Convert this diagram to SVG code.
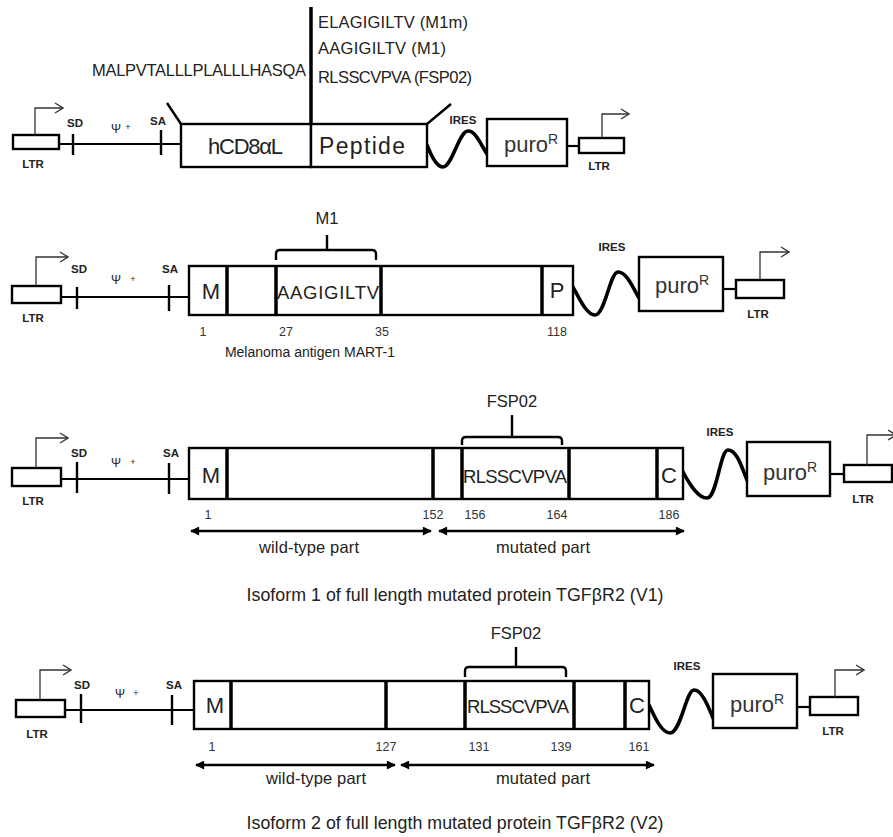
<svg xmlns="http://www.w3.org/2000/svg" width="893" height="837" viewBox="0 0 893 837">
<style>
.bg{fill:#fff}
.box{fill:#fff;stroke:#000;stroke-width:2.4}
.ltr{fill:#fff;stroke:#000;stroke-width:2.4}
.dv{stroke:#000;stroke-width:3.5;fill:none}
.ln{stroke:#000;stroke-width:2.2;fill:none}
.tk{stroke:#000;stroke-width:2.4;fill:none}
.pr{stroke:#333;stroke-width:1.3;fill:none;marker-end:url(#chev)}
.wv{stroke:#000;stroke-width:3.6;fill:none;stroke-linecap:round}
.br{stroke:#000;stroke-width:2.4;fill:none}
.dar{stroke:#000;stroke-width:2.4;fill:none;marker-start:url(#tri);marker-end:url(#tri)}
text{font-family:"Liberation Sans",Arial,sans-serif;fill:#222}
.sb{font-size:11.5px;font-weight:bold;text-anchor:middle}
.psi{font-size:12px;text-anchor:middle}
.pl{font-size:9px;text-anchor:middle}
.seq{font-size:16.5px}
.big{font-size:22px}
.bx{font-size:18.5px}
.let{font-size:22px;text-anchor:middle}
.num{font-size:12.5px;text-anchor:middle;fill:#333}
.cap{font-size:16.5px;text-anchor:middle}
.ttl{font-size:17.8px;text-anchor:middle}
.pu{font-size:22px;fill:#333}
.sup{font-size:14px}
</style>
<defs>
<marker id="chev" viewBox="0 0 10 12" refX="9" refY="6" markerWidth="10" markerHeight="12" markerUnits="userSpaceOnUse" orient="auto"><path d="M1,1 L9,6 L1,11" fill="none" stroke="#333" stroke-width="1.3"/></marker>
<marker id="tri" viewBox="0 0 10 10" refX="9" refY="5" markerWidth="10" markerHeight="9" markerUnits="userSpaceOnUse" orient="auto-start-reverse"><path d="M0,0 L10,5 L0,10 z" fill="#000"/></marker>
</defs>
<rect class="bg" x="0" y="0" width="893" height="837"/>

<g id="connectors">
  <path class="ln" d="M59,144 H181"/>
  <path class="ln" d="M567,146 H579"/>
  <path class="wv" d="M427,145 C432,158 437,167 443,167 C452,167 459,131 468,131 C476,131 481,145 487,154"/>
  <path class="tk" d="M167,103 L181,124"/>
  <path class="tk" d="M427,124 L451,104"/>
  <path class="dv" d="M311,7 V124"/>
  <path class="ln" d="M61,297 H189"/>
  <path class="ln" d="M723,289 H736"/>
  <path class="wv" d="M573,287 C580,300 587,315 595,315 C605,315 610,272 618,272 C627,272 633,288 639,298"/>
  <path class="ln" d="M61,479 H189"/>
  <path class="ln" d="M830,474 H844"/>
  <path class="wv" d="M683,472 C690,485 698,498 707,498 C717,498 720,450 728,450 C737,450 742,468 747,480"/>
  <path class="dar" d="M191,531 H431"/>
  <path class="dar" d="M439,531 H684"/>
  <path class="ln" d="M65,710 H194"/>
  <path class="ln" d="M797,707 H810"/>
  <path class="wv" d="M649,705 C655,718 662,733 670,733 C681,733 686,690 694,690 C702,690 708,706 713,718"/>
  <path class="dar" d="M196,765 H395"/>
  <path class="dar" d="M401,765 H654"/>
</g>

<g id="r1-ltr-left">
  <rect class="ltr" x="13" y="135" width="46" height="14"/>
  <path class="pr" d="M35,135 V108 H63"/>
  <text class="sb" x="33" y="168">LTR</text>
</g>
<g id="r1-sd">
  <path class="tk" d="M73,134 V155"/>
  <text class="sb" x="75" y="127">SD</text>
</g>
<g id="r1-psi">
  <text class="psi" x="116" y="133">Ψ</text>
  <text class="pl" x="128" y="130">+</text>
</g>
<g id="r1-sa">
  <path class="tk" d="M161,130 V155"/>
  <text class="sb" x="158" y="125">SA</text>
</g>
<g id="r1-hcd8">
  <rect class="box" x="181" y="124" width="130" height="43"/>
  <text class="big" x="208" y="154" textLength="75">hCD8αL</text>
</g>
<g id="r1-peptide">
  <rect class="box" x="311" y="124" width="116" height="43"/>
  <text class="big" x="319" y="154" textLength="86" style="font-size:23px">Peptide</text>
</g>
<g id="r1-seqs">
  <text class="seq" x="306" y="76" text-anchor="end" textLength="214">MALPVTALLLPLALLLHASQA</text>
  <text class="seq" x="318" y="28" textLength="150">ELAGIGILTV (M1m)</text>
  <text class="seq" x="318" y="54" textLength="128">AAGIGILTV (M1)</text>
  <text class="seq" x="318" y="83" textLength="154">RLSSCVPVA (FSP02)</text>
</g>
<g id="r1-ires">
  <text class="sb" x="463" y="124">IRES</text>
</g>
<g id="r1-puro">
  <rect class="box" x="487" y="119" width="80" height="47"/>
  <text class="pu" x="504" y="152">puro<tspan class="sup" dy="-8">R</tspan></text>
</g>
<g id="r1-ltr-right">
  <rect class="ltr" x="579" y="138" width="45" height="15"/>
  <path class="pr" d="M602,138 V114 H629"/>
  <text class="sb" x="599" y="170">LTR</text>
</g>

<g id="r2-ltr-left">
  <rect class="ltr" x="12" y="286" width="49" height="17"/>
  <path class="pr" d="M36,286 V257 H68"/>
  <text class="sb" x="33" y="322">LTR</text>
</g>
<g id="r2-sd">
  <path class="tk" d="M77,287 V309"/>
  <text class="sb" x="79" y="273">SD</text>
</g>
<g id="r2-psi">
  <text class="psi" x="116" y="284">Ψ</text>
  <text class="pl" x="133" y="282">+</text>
</g>
<g id="r2-sa">
  <path class="tk" d="M169,285 V311"/>
  <text class="sb" x="170" y="273">SA</text>
</g>
<g id="r2-mart1">
  <rect class="box" x="189" y="266" width="384" height="49"/>
  <path class="dv" d="M227,266 V315 M276,266 V315 M381,266 V315 M542,266 V315"/>
  <text class="let" x="211" y="299">M</text>
  <text class="bx" x="277" y="299" textLength="102">AAGIGILTV</text>
  <text class="let" x="557" y="298">P</text>
  <path class="br" d="M276,260 V254 Q276,250 280,250 H372 Q376,250 376,254 V260 M327,250 V235"/>
  <text class="cap" x="327" y="224" style="font-size:16.5px">M1</text>
  <text class="num" x="203" y="336">1</text>
  <text class="num" x="286" y="336">27</text>
  <text class="num" x="382" y="336">35</text>
  <text class="num" x="557" y="336">118</text>
  <text class="cap" x="310" y="357" style="font-size:14px">Melanoma antigen MART-1</text>
</g>
<g id="r2-ires">
  <text class="sb" x="612" y="251">IRES</text>
</g>
<g id="r2-puro">
  <rect class="box" x="639" y="257" width="84" height="54"/>
  <text class="pu" x="655" y="293">puro<tspan class="sup" dy="-8">R</tspan></text>
</g>
<g id="r2-ltr-right">
  <rect class="ltr" x="736" y="280" width="48" height="18"/>
  <path class="pr" d="M760,280 V252 H789"/>
  <text class="sb" x="758" y="318">LTR</text>
</g>

<g id="r3-ltr-left">
  <rect class="ltr" x="12" y="468" width="49" height="18"/>
  <path class="pr" d="M36,468 V438 H68"/>
  <text class="sb" x="33" y="505">LTR</text>
</g>
<g id="r3-sd">
  <path class="tk" d="M77,462 V493"/>
  <text class="sb" x="79" y="457">SD</text>
</g>
<g id="r3-psi">
  <text class="psi" x="116" y="467">Ψ</text>
  <text class="pl" x="133" y="465">+</text>
</g>
<g id="r3-sa">
  <path class="tk" d="M169,463 V494"/>
  <text class="sb" x="171" y="457">SA</text>
</g>
<g id="r3-tgfbr2-v1">
  <rect class="box" x="189" y="448" width="494" height="51"/>
  <path class="dv" d="M227,448 V499 M433,448 V499 M462,448 V499 M569,448 V499 M657,448 V499"/>
  <text class="let" x="211" y="483">M</text>
  <text class="bx" x="463" y="483" textLength="104">RLSSCVPVA</text>
  <text class="let" x="669" y="483">C</text>
  <path class="br" d="M462,445 V441 Q462,437 466,437 H558 Q562,437 562,441 V445 M512,437 V415"/>
  <text class="cap" x="512" y="407" style="font-size:16.5px">FSP02</text>
  <text class="num" x="208" y="519">1</text>
  <text class="num" x="433" y="519">152</text>
  <text class="num" x="475" y="519">156</text>
  <text class="num" x="557" y="519">164</text>
  <text class="num" x="669" y="519">186</text>
  <text class="cap" x="309" y="553" textLength="100">wild-type part</text>
  <text class="cap" x="543" y="553" textLength="94">mutated part</text>
  <text class="ttl" x="455" y="601" textLength="417">Isoform 1 of full length mutated protein TGFβR2 (V1)</text>
</g>
<g id="r3-ires">
  <text class="sb" x="720" y="436">IRES</text>
</g>
<g id="r3-puro">
  <rect class="box" x="747" y="442" width="83" height="54"/>
  <text class="pu" x="763" y="480">puro<tspan class="sup" dy="-8">R</tspan></text>
</g>
<g id="r3-ltr-right">
  <rect class="ltr" x="844" y="465" width="48" height="17"/>
  <path class="pr" d="M867,465 V435 H896"/>
  <text class="sb" x="863" y="503">LTR</text>
</g>

<g id="r4-ltr-left">
  <rect class="ltr" x="16" y="700" width="49" height="17"/>
  <path class="pr" d="M40,700 V670 H71"/>
  <text class="sb" x="37" y="738">LTR</text>
</g>
<g id="r4-sd">
  <path class="tk" d="M81,694 V723"/>
  <text class="sb" x="82" y="689">SD</text>
</g>
<g id="r4-psi">
  <text class="psi" x="120" y="698">Ψ</text>
  <text class="pl" x="136" y="696">+</text>
</g>
<g id="r4-sa">
  <path class="tk" d="M172,695 V725"/>
  <text class="sb" x="174" y="689">SA</text>
</g>
<g id="r4-tgfbr2-v2">
  <rect class="box" x="194" y="681" width="455" height="48"/>
  <path class="dv" d="M231,681 V729 M386,681 V729 M465,681 V729 M574,681 V729 M625,681 V729"/>
  <text class="let" x="215" y="713">M</text>
  <text class="bx" x="467" y="713" textLength="102">RLSSCVPVA</text>
  <text class="let" x="637" y="713">C</text>
  <path class="br" d="M465,677 V671 Q465,667 469,667 H562 Q566,667 566,671 V677 M516,667 V647"/>
  <text class="cap" x="516" y="639" style="font-size:16.5px">FSP02</text>
  <text class="num" x="212" y="751">1</text>
  <text class="num" x="386" y="751">127</text>
  <text class="num" x="479" y="751">131</text>
  <text class="num" x="561" y="751">139</text>
  <text class="num" x="639" y="751">161</text>
  <text class="cap" x="316" y="784" textLength="100">wild-type part</text>
  <text class="cap" x="543" y="784" textLength="94">mutated part</text>
  <text class="ttl" x="455" y="829" textLength="417">Isoform 2 of full length mutated protein TGFβR2 (V2)</text>
</g>
<g id="r4-ires">
  <text class="sb" x="687" y="670">IRES</text>
</g>
<g id="r4-puro">
  <rect class="box" x="713" y="674" width="84" height="54"/>
  <text class="pu" x="730" y="712">puro<tspan class="sup" dy="-8">R</tspan></text>
</g>
<g id="r4-ltr-right">
  <rect class="ltr" x="810" y="697" width="48" height="18"/>
  <path class="pr" d="M835,697 V670 H864"/>
  <text class="sb" x="833" y="735">LTR</text>
</g>
</svg>
